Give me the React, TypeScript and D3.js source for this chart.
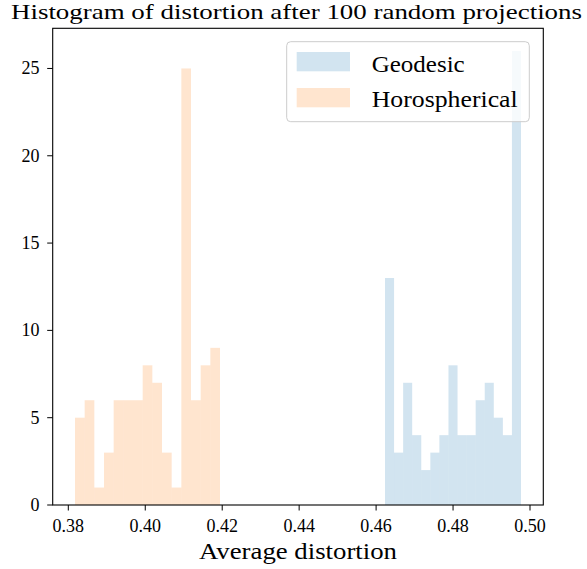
import React from "react";
import * as d3 from "d3";

const geodesicCounts = [13, 3, 7, 4, 2, 3, 4, 8, 4, 4, 6, 7, 5, 4, 26];
const geodesicRange = [0.46231, 0.49766];
const horoCounts = [5, 6, 1, 3, 6, 6, 6, 8, 7, 3, 1, 25, 6, 8, 9];
const horoRange = [0.38174, 0.41943];
const xTicks = [0.38, 0.4, 0.42, 0.44, 0.46, 0.48, 0.5];
const yTicks = [0, 5, 10, 15, 20, 25];
const seriesNames = ["Geodesic", "Horospherical"];
const seriesColors = ["#1f77b4", "#ff7f0e"];
const legendTextWidths = [93, 146];

const W = 587;
const H = 569;
const FONT = "'Liberation Serif', 'DejaVu Serif', serif";

function bins(counts: number[], range: number[]) {
  const w = (range[1] - range[0]) / counts.length;
  return counts.map((c, i) => ({ x0: range[0] + i * w, x1: range[0] + (i + 1) * w, c }));
}

export default function App() {
  const left = 52.7, right = 543.3, top = 28.3, bottom = 505;
  const allLo = horoRange[0], allHi = geodesicRange[1];
  const pad = (allHi - allLo) * 0.05;
  const x = d3.scaleLinear().domain([allLo - pad, allHi + pad]).range([left, right]);
  const y = d3.scaleLinear().domain([0, 26 * 1.05]).range([bottom, top]);

  const series = [bins(geodesicCounts, geodesicRange), bins(horoCounts, horoRange)];

  return (
    <svg width={W} height={H} style={{ position: "absolute", left: 0, top: 0 }}>
      <rect x={0} y={0} width={W} height={H} fill="white" />
      {series.map((bs, si) => (
        <g key={si}>
          {bs.map((b, i) => (
            <rect
              key={i}
              x={x(b.x0)}
              y={y(b.c)}
              width={x(b.x1) - x(b.x0)}
              height={y(0) - y(b.c)}
              fill={seriesColors[si]}
              fillOpacity={0.2}
            />
          ))}
        </g>
      ))}
      <rect x={left} y={top} width={right - left} height={bottom - top} fill="none" stroke="black" strokeWidth={1.1} />
      {xTicks.map((t) => (
        <g key={t}>
          <line x1={x(t)} x2={x(t)} y1={bottom} y2={bottom + 5.5} stroke="black" strokeWidth={1} />
          <text x={x(t)} y={531.5} textAnchor="middle" fontFamily={FONT} fontSize={18}>
            {t.toFixed(2)}
          </text>
        </g>
      ))}
      {yTicks.map((t) => (
        <g key={t}>
          <line x1={left - 5.5} x2={left} y1={y(t)} y2={y(t)} stroke="black" strokeWidth={1} />
          <text x={39.5} y={y(t) + 6} textAnchor="end" fontFamily={FONT} fontSize={18}>
            {t}
          </text>
        </g>
      ))}
      <text x={199} y={559} fontFamily={FONT} fontSize={23} textLength={198} lengthAdjust="spacingAndGlyphs">
        Average distortion
      </text>
      <text x={11} y={19} fontFamily={FONT} fontSize={22} textLength={571} lengthAdjust="spacingAndGlyphs">
        Histogram of distortion after 100 random projections
      </text>
      <rect x={286.7} y={41.7} width={242.6} height={80} rx={4} fill="white" fillOpacity={0.8} stroke="#cccccc" strokeWidth={1} />
      {seriesNames.map((n, i) => (
        <g key={n}>
          <rect x={296.7} y={52 + i * 36} width={53.3} height={19.3} fill={seriesColors[i]} fillOpacity={0.2} />
          <text x={371.7} y={71.5 + i * 35.5} fontFamily={FONT} fontSize={23} textLength={legendTextWidths[i]} lengthAdjust="spacingAndGlyphs">
            {n}
          </text>
        </g>
      ))}
    </svg>
  );
}
